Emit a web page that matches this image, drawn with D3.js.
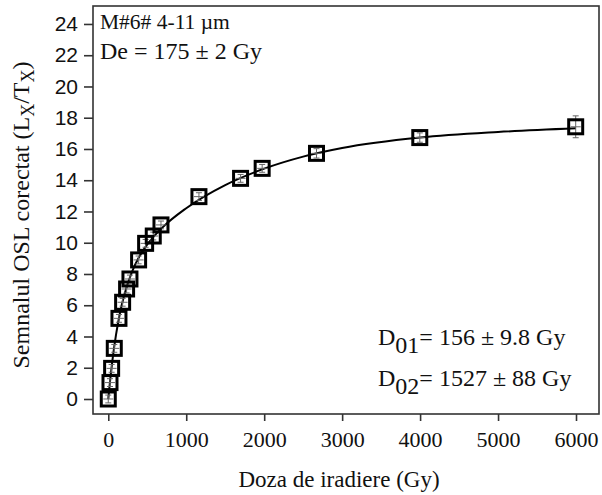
<!DOCTYPE html>
<html>
<head>
<meta charset="utf-8">
<script src="https://cdn.jsdelivr.net/npm/d3@7"></script>
<style>
  body { margin: 0; background: #fff; }
  .serif { font-family: "Liberation Serif", "Times New Roman", serif; }
</style>
</head>
<body>
<script>
// dose points (Gy) and corrected OSL signal
var doses   = [0, 22, 43, 77, 137, 184, 235, 278, 389, 479, 577, 676, 1163, 1697, 1974, 2671, 3996, 5996];
var signals = [0, 1.05, 1.96, 3.24, 5.16, 6.19, 7.04, 7.68, 8.9, 9.96, 10.43, 11.14, 12.95, 14.12, 14.76, 15.72, 16.73, 17.42];
var errors  = [0.25, 0.25, 0.25, 0.25, 0.25, 0.25, 0.25, 0.25, 0.25, 0.25, 0.25, 0.25, 0.25, 0.25, 0.25, 0.3, 0.3, 0.7];

// fitted growth curve, read at a few doses
var curveX = [0, 25, 50, 100, 150, 200, 300, 400, 500, 700, 1000, 1500, 2000, 2500, 3000, 4000, 5000, 6000];
var curveY = [0, 1.25, 2.35, 4.13, 5.5, 6.56, 8.09, 9.13, 9.89, 11.0, 12.21, 13.69, 14.74, 15.51, 16.06, 16.73, 17.09, 17.33];

var xTicks = [0, 1000, 2000, 3000, 4000, 5000, 6000];
var yTicks = [0, 2, 4, 6, 8, 10, 12, 14, 16, 18, 20, 22, 24];

var margin = {top: 6, right: 3, bottom: 81, left: 93},
    width = 602 - margin.left - margin.right,
    height = 495 - margin.top - margin.bottom;

var x = d3.scaleLinear().domain([-196, 6295]).range([0, width]);
var y = d3.scaleLinear().domain([-0.96, 25.15]).range([height, 0]);

var svg = d3.select("body").append("svg")
    .attr("width", 602)
    .attr("height", 495)
  .append("g")
    .attr("transform", "translate(" + margin.left + "," + margin.top + ")");

// frame
svg.append("rect")
    .attr("width", width)
    .attr("height", height)
    .attr("fill", "none")
    .attr("stroke", "#333")
    .attr("stroke-width", 1.6);

// axes
var xAxis = svg.append("g")
    .attr("transform", "translate(0," + height + ")")
    .call(d3.axisBottom(x).tickValues(xTicks).tickSize(7).tickPadding(10).tickFormat(d3.format("d")));
xAxis.select(".domain").remove();
xAxis.selectAll("line").attr("stroke", "#333").attr("stroke-width", 1.6);
xAxis.selectAll("text")
    .attr("class", "serif")
    .style("font-size", "22px")
    .attr("fill", "#111");

var yAxis = svg.append("g")
    .call(d3.axisLeft(y).tickValues(yTicks).tickSize(9).tickPadding(6));
yAxis.select(".domain").remove();
yAxis.selectAll("line").attr("stroke", "#333").attr("stroke-width", 1.6);
yAxis.selectAll("text")
    .style("font-family", "'Liberation Sans', Arial, sans-serif")
    .style("font-size", "21px")
    .attr("fill", "#111");

// fitted curve
var line = d3.line()
    .x(function(d) { return x(d[0]); })
    .y(function(d) { return y(d[1]); })
    .curve(d3.curveMonotoneX);

svg.append("path")
    .datum(curveX.map(function(d, i) { return [d, curveY[i]]; }))
    .attr("d", line)
    .attr("fill", "none")
    .attr("stroke", "#000")
    .attr("stroke-width", 2);

var points = doses.map(function(d, i) {
  return {dose: d, sig: signals[i], err: errors[i]};
});

// error bars
var eb = svg.selectAll(".eb")
    .data(points)
  .enter().append("g")
    .attr("class", "eb")
    .attr("stroke", "#666")
    .attr("stroke-width", 1);
eb.append("line")
    .attr("x1", function(d) { return x(d.dose); })
    .attr("x2", function(d) { return x(d.dose); })
    .attr("y1", function(d) { return y(d.sig - d.err); })
    .attr("y2", function(d) { return y(d.sig + d.err); });
eb.append("line")
    .attr("x1", function(d) { return x(d.dose) - 3; })
    .attr("x2", function(d) { return x(d.dose) + 3; })
    .attr("y1", function(d) { return y(d.sig - d.err); })
    .attr("y2", function(d) { return y(d.sig - d.err); });
eb.append("line")
    .attr("x1", function(d) { return x(d.dose) - 3; })
    .attr("x2", function(d) { return x(d.dose) + 3; })
    .attr("y1", function(d) { return y(d.sig + d.err); })
    .attr("y2", function(d) { return y(d.sig + d.err); });
eb.append("line")
    .attr("x1", function(d) { return x(d.dose) - 5; })
    .attr("x2", function(d) { return x(d.dose) + 5; })
    .attr("y1", function(d) { return y(d.sig); })
    .attr("y2", function(d) { return y(d.sig); });

// square markers
svg.selectAll(".pt")
    .data(points)
  .enter().append("rect")
    .attr("class", "pt")
    .attr("x", function(d) { return x(d.dose) - 7; })
    .attr("y", function(d) { return y(d.sig) - 7; })
    .attr("width", 14)
    .attr("height", 14)
    .attr("fill", "none")
    .attr("stroke", "#000")
    .attr("stroke-width", 3);

// annotations
function note(tx, ty, size, parts) {
  var t = svg.append("text")
      .attr("class", "serif")
      .attr("x", tx)
      .attr("y", ty)
      .style("font-size", size + "px")
      .attr("fill", "#111");
  parts.forEach(function(p) {
    var s = t.append("tspan").text(p.t);
    if (p.sub) s.attr("baseline-shift", "-35%");
  });
}
note(7, 23, 21.5, [{t: "M#6# 4-11 \u00b5m"}]);
note(7, 53, 24, [{t: "De = 175 \u00b1 2 Gy"}]);
note(285, 339, 24, [{t: "D"}, {t: "01", sub: true}, {t: "= 156 \u00b1 9.8 Gy"}]);
note(285, 380, 24, [{t: "D"}, {t: "02", sub: true}, {t: "= 1527 \u00b1 88 Gy"}]);

// axis titles
svg.append("text")
    .attr("class", "serif")
    .attr("x", 246)
    .attr("y", 481)
    .attr("text-anchor", "middle")
    .style("font-size", "23px")
    .attr("fill", "#111")
    .text("Doza de iradiere (Gy)");

var yt = svg.append("text")
    .attr("class", "serif")
    .attr("transform", "translate(-64," + 209 + ") rotate(-90)")
    .attr("text-anchor", "middle")
    .style("font-size", "24px")
    .attr("fill", "#111");
yt.append("tspan").text("Semnalul OSL corectat (L");
yt.append("tspan").attr("baseline-shift", "-30%").style("font-size", "18px").text("X");
yt.append("tspan").text("/T");
yt.append("tspan").attr("baseline-shift", "-30%").style("font-size", "18px").text("X");
yt.append("tspan").text(")");
</script>
</body>
</html>
